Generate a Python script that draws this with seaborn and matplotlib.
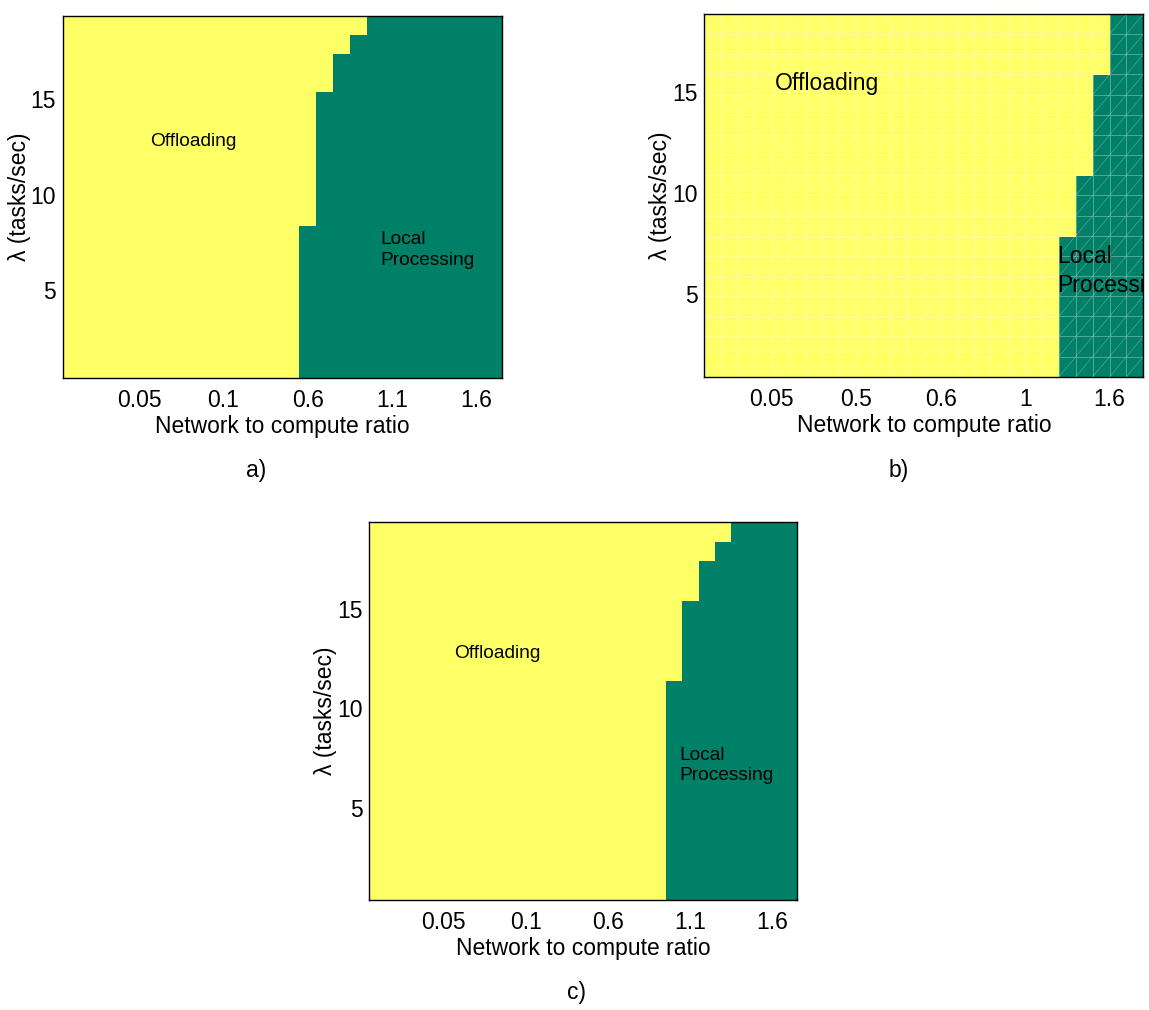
import numpy as np
import pandas as pd
import matplotlib
matplotlib.use("Agg")
import matplotlib.pyplot as plt
from matplotlib.colors import ListedColormap
import seaborn as sns

# ---- data ----
# rows = lambda (tasks/sec), columns = index of network-to-compute ratio setting
lam_ac = [1, 2, 3, 4, 5, 6, 7, 8, 9, 10, 11, 12, 13, 14, 15, 16, 17, 18, 19]
lam_b = [1, 2, 3, 4, 5, 6, 7, 8, 9, 10, 11, 12, 13, 14, 15, 16, 17, 18]
ratio_cols = list(range(1, 27))

tick_cols = [5, 10, 15, 20, 25]
lam_ticks = [5, 10, 15]
ticks_a = ["0.05", "0.1", "0.6", "1.1", "1.6"]
ticks_b = ["0.05", "0.5", "0.6", "1", "1.6"]
ticks_c = ["0.05", "0.1", "0.6", "1.1", "1.6"]

# first column (1-based) where local processing wins, for each lambda row
a_first_local = [15, 15, 15, 15, 15, 15, 15, 15, 16, 16, 16, 16, 16, 16, 16, 17, 17, 18, 19]
b_first_local = [22, 22, 22, 22, 22, 22, 22, 23, 23, 23, 24, 24, 24, 24, 24, 25, 25, 25]
c_first_local = [19, 19, 19, 19, 19, 19, 19, 19, 19, 19, 19, 20, 20, 20, 20, 21, 21, 22, 23]


def decision_frame(lams, first_local):
    m = [[1 if c >= f else 0 for c in ratio_cols] for f in first_local]
    return pd.DataFrame(m, index=lams, columns=ratio_cols)


sns.set_theme(style="white")
plt.rcParams["font.family"] = ["Liberation Sans", "DejaVu Sans"]
plt.rcParams["text.color"] = "black"
plt.rcParams["axes.labelcolor"] = "black"
plt.rcParams["xtick.color"] = "black"
plt.rcParams["ytick.color"] = "black"

cmap = ListedColormap(["#FFFF66", "#008066"])
FS = 16.5

fig = plt.figure(figsize=(11.49, 10.10), dpi=100)
ax_a = fig.add_axes([0.0548, 0.6257, 0.3821, 0.3584])
ax_b = fig.add_axes([0.6130, 0.6270, 0.3821, 0.3591])
ax_c = fig.add_axes([0.3214, 0.1089, 0.3725, 0.3746])


def draw(ax, df, labels, edge, txt_fs, off_xy, loc_xy, grid=False):
    sns.heatmap(df, ax=ax, cmap=cmap, vmin=0, vmax=1, cbar=False,
                linewidths=0.5 if grid else 0,
                linecolor=(1, 1, 1, 0.3) if grid else "white")
    ax.invert_yaxis()
    shift = 1.0 if edge else 0.5
    ax.set_xticks([c - shift for c in tick_cols])
    ax.set_xticklabels(labels, rotation=0, fontsize=FS)
    ax.set_yticks([v - shift for v in lam_ticks])
    ax.set_yticklabels([str(v) for v in lam_ticks], rotation=0, fontsize=FS)
    ax.set_xlabel("Network to compute ratio", fontsize=FS, labelpad=2)
    ax.set_ylabel("λ (tasks/sec)", fontsize=FS, labelpad=0)
    for s in ax.spines.values():
        s.set_visible(True)
        s.set_color("black")
        s.set_linewidth(1.0)
    ax.tick_params(direction="in", length=3.5, width=0.9, top=True, right=True,
                   bottom=True, left=True, labeltop=False, labelright=False,
                   colors="black")
    ax.tick_params(axis="x", pad=8)
    ax.tick_params(axis="y", pad=5)
    if grid:
        nr, nc = df.shape
        for k in range(-nc, nr):
            x0, x1 = max(0, -k), min(nc, nr - k)
            if x1 > x0:
                ax.plot([x0, x1], [x0 + k, x1 + k], color=(1, 1, 1, 0.3), lw=0.5)
    ax.text(off_xy[0], off_xy[1], "Offloading", transform=ax.transAxes,
            ha="center", va="center", fontsize=txt_fs, color="black")
    ax.text(loc_xy[0], loc_xy[1], "Local\nProcessing", transform=ax.transAxes,
            ha="left", va="center", fontsize=txt_fs, color="black",
            linespacing=1.3, clip_on=True)


draw(ax_a, decision_frame(lam_ac, a_first_local), ticks_a, False, 13.8,
     (0.298, 0.653), (0.724, 0.354))
draw(ax_b, decision_frame(lam_b, b_first_local), ticks_b, True, 16.5,
     (0.2795, 0.809), (0.804, 0.292), grid=True)
draw(ax_c, decision_frame(lam_ac, c_first_local), ticks_c, False, 13.8,
     (0.300, 0.652), (0.7236, 0.3555))

fig.text(256 / 1149, 1 - 470 / 1010, "a)", ha="center", va="center", fontsize=FS)
fig.text(899 / 1149, 1 - 470 / 1010, "b)", ha="center", va="center", fontsize=FS)
fig.text(577 / 1149, 1 - 992 / 1010, "c)", ha="center", va="center", fontsize=FS)

fig.savefig("out.png", dpi=100)
